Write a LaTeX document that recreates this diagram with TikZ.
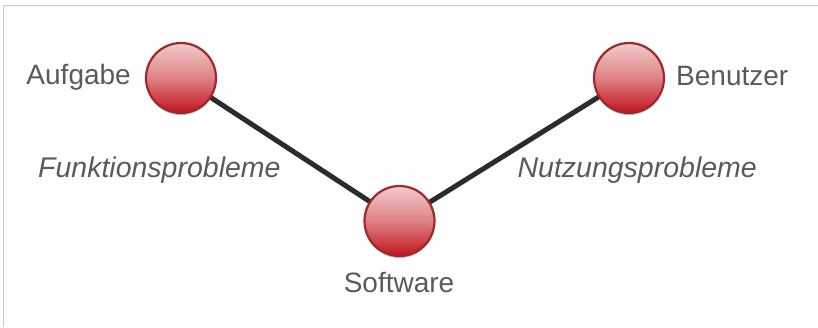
\documentclass[tikz,border=0pt]{standalone}
\usepackage{fontspec}
\setmainfont{Liberation Sans}
\usetikzlibrary{shadows}
\definecolor{labelgray}{HTML}{5A5A5A}
\definecolor{ballrim}{HTML}{9C2A2C}
\definecolor{balltop}{HTML}{F2CBCB}
\definecolor{ballbot}{HTML}{C2141B}
\definecolor{linkgray}{HTML}{2B2B2B}
\definecolor{framegray}{HTML}{C8C8C8}
\tikzset{
  ball/.style={circle, minimum size=70pt, inner sep=0pt, draw=ballrim, line width=2.2pt,
    top color=balltop, bottom color=ballbot, middle color=ballbot!40!balltop,
    drop shadow={shadow xshift=0pt, shadow yshift=-2pt, opacity=0.25, fill=black}},
  link/.style={draw=linkgray, line width=5pt},
  lbl/.style={text=labelgray, font=\fontsize{28}{32}\selectfont, inner sep=0pt},
  ilbl/.style={lbl, font=\fontsize{28.5}{32}\selectfont\itshape}
}
\begin{document}
\begin{tikzpicture}[x=1pt, y=-1pt]
  \useasboundingbox (0,0) rectangle (818,327);
  \fill[white] (0,0) rectangle (818,327);
  % thin frame along the top and left edges
  \draw[framegray, line width=1.5pt] (3.5,327) -- (3.5,5.5) -- (818,5.5);

  \coordinate (pa) at (181,78);
  \coordinate (ps) at (399.5,221);
  \coordinate (pb) at (629,78);

  \draw[link] (pa) -- (ps) -- (pb);

  \node[ball] (aufgabe) at (pa) {};
  \node[ball] (software) at (ps) {};
  \node[ball] (benutzer) at (pb) {};

  \node[lbl, anchor=east] (laufgabe) at (131,77) {Aufgabe};
  \node[lbl, anchor=west] (lbenutzer) at (676,76) {Benutzer};
  \node[lbl] (lsoftware) at (399,282) {Software};
  \node[ilbl, anchor=west] (lfunk) at (38,170) {Funktionsprobleme};
  \node[ilbl, anchor=east] (lnutz) at (757,170) {Nutzungsprobleme};
\end{tikzpicture}
\end{document}
